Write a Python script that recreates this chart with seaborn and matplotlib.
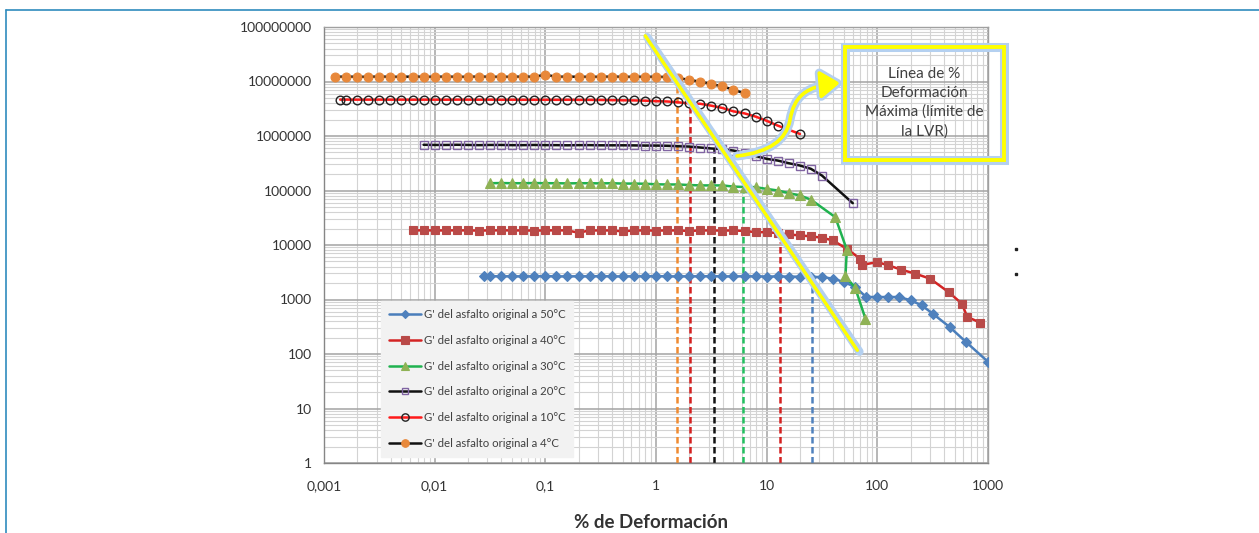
import numpy as np
import pandas as pd
import matplotlib
matplotlib.use("Agg")
import matplotlib.pyplot as plt
import seaborn as sns
from matplotlib.path import Path
from matplotlib.patches import FancyArrowPatch, Rectangle
from matplotlib.lines import Line2D
import matplotlib.patheffects as pe
from matplotlib.ticker import LogLocator, NullFormatter

# ---------------- data ----------------
STRAIN_50 = [0.028, 0.0316, 0.0398, 0.0501, 0.0631, 0.0794,
             0.1, 0.126, 0.158, 0.2, 0.251, 0.316, 0.398, 0.501, 0.631, 0.794,
             1.0, 1.26, 1.58, 2.0, 2.51, 3.16, 3.98, 5.01, 6.31, 7.94,
             10.0, 12.6, 15.8, 20.0, 25.1, 31.6,
             39.8, 50.1, 63.1, 79.4, 100, 126, 158, 200, 251, 316, 450, 631, 1000]
G_50 = [2650, 2680, 2660, 2670, 2650, 2660,
        2680, 2660, 2650, 2670, 2660, 2680, 2660, 2650, 2670, 2660,
        2680, 2660, 2650, 2670, 2660, 2680, 2660, 2650, 2670, 2660,
        2640, 2650, 2630, 2620, 2600, 2580,
        2410, 2090, 1690, 1110, 1110, 1110, 1110, 967, 783, 552, 313, 167, 72]

STRAIN_40 = [0.00631, 0.00794, 0.01, 0.0126, 0.0158, 0.02, 0.0251, 0.0316, 0.0398, 0.0501,
             0.0631, 0.0794, 0.1, 0.126, 0.158, 0.2, 0.251,
             0.316, 0.398, 0.501, 0.631, 0.794, 1.0, 1.26, 1.58, 2.0, 2.51, 3.16, 3.98, 5.01, 6.31, 7.94,
             10.0, 12.6, 15.8, 20.0, 25.1, 31.6, 39.8, 53.0, 70.0, 72.0,
             100, 126, 165, 220, 300, 440, 580, 650, 850]
G_40 = [18500, 18600, 18500, 18500, 18600, 18500, 18400, 18500, 18600, 18500,
        18500, 18400, 18500, 18600, 18500, 16800, 18500,
        18500, 18500, 17800, 18500, 18500, 18400, 18500, 18500, 18100, 18500, 18500, 18400, 18500, 18100, 17200,
        17200, 16500, 15600, 15000, 14400, 13600, 12100, 8500, 5600, 4300,
        4860, 4230, 3520, 2980, 2410, 1370, 841, 478, 377]

STRAIN_30 = [0.0316, 0.0398, 0.0501, 0.0631, 0.0794, 0.1, 0.126, 0.158, 0.2, 0.251, 0.316, 0.398, 0.501, 0.631,
             0.794, 1.0, 1.26, 1.58, 2.0, 2.51, 3.16, 3.98, 5.01, 6.31, 7.94, 10.0, 12.6, 15.8, 20.0, 25.1,
             41.7, 53.0, 51.5, 63.0, 78.0]
G_30 = [136000, 137000, 136000, 136000, 137000, 136000, 136000, 135000, 136000, 136000, 135000, 136000, 134000, 134000,
        133000, 130000, 129000, 129000, 126000, 124000, 124000, 124000, 118000, 116000, 115000, 107000, 100000, 89600, 81000, 68000,
        32400, 8200, 2660, 1650, 447]

STRAIN_20 = [0.00794, 0.01, 0.0126, 0.0158, 0.02, 0.0251, 0.0316, 0.0398, 0.0501, 0.0631,
             0.0794, 0.1, 0.126, 0.158, 0.2, 0.251, 0.316, 0.398, 0.501,
             0.631, 0.794, 1.0, 1.26, 1.58, 2.0, 2.51, 3.16, 3.98, 5.01, 6.31, 7.94,
             10.0, 12.6, 15.8, 20.0, 25.1, 31.6, 60.0]
G_20 = [690000, 685000, 685000, 690000, 685000, 680000, 685000, 685000, 680000, 680000,
        685000, 680000, 680000, 675000, 680000, 680000, 675000, 675000, 675000,
        672000, 667000, 667000, 660000, 648000, 640000, 615000, 590000, 575000, 540000, 490000, 430000,
        381000, 354000, 317000, 287000, 250000, 188000, 58500]

STRAIN_10 = [0.0014, 0.00158, 0.002, 0.00251, 0.00316, 0.00398, 0.00501, 0.00631, 0.00794,
             0.01, 0.0126, 0.0158, 0.02, 0.0251, 0.0316, 0.0398, 0.0501, 0.0631, 0.0794,
             0.1, 0.126, 0.158, 0.2, 0.251, 0.316, 0.398, 0.501, 0.631, 0.794,
             1.0, 1.26, 1.58, 2.0, 2.51, 3.16, 3.98, 5.01, 6.31, 7.94,
             10.0, 12.6, 20.0]
G_10 = [4.65e6, 4.65e6, 4.64e6, 4.64e6, 4.65e6, 4.64e6, 4.64e6, 4.63e6, 4.64e6,
        4.64e6, 4.63e6, 4.64e6, 4.64e6, 4.63e6, 4.64e6, 4.62e6, 4.63e6, 4.62e6, 4.62e6,
        4.62e6, 4.61e6, 4.62e6, 4.60e6, 4.60e6, 4.58e6, 4.55e6, 4.52e6, 4.50e6, 4.45e6,
        4.35e6, 4.30e6, 4.15e6, 3.97e6, 3.90e6, 3.60e6, 3.27e6, 2.83e6, 2.60e6, 2.27e6,
        1.90e6, 1.55e6, 1.09e6]

STRAIN_4 = [0.00126, 0.00158, 0.002, 0.00251, 0.00316, 0.00398, 0.00501, 0.00631, 0.00794,
            0.01, 0.0126, 0.0158, 0.02, 0.0251, 0.0316, 0.0398, 0.0501, 0.0631, 0.0794,
            0.1, 0.126, 0.158, 0.2, 0.251, 0.316, 0.398, 0.501, 0.631, 0.794,
            1.0, 1.26, 1.58, 2.0, 2.51, 3.16, 3.98, 5.01, 6.31]
G_4 = [12.2e6, 12.3e6, 12.2e6, 12.2e6, 12.3e6, 12.2e6, 12.2e6, 12.3e6, 12.2e6,
       12.2e6, 12.3e6, 12.2e6, 12.2e6, 12.3e6, 12.2e6, 12.2e6, 12.2e6, 12.3e6, 12.2e6,
       13.3e6, 12.2e6, 12.3e6, 12.2e6, 12.2e6, 12.2e6, 12.3e6, 12.2e6, 12.2e6, 12.2e6,
       12.2e6, 12.1e6, 11.6e6, 10.7e6, 9.9e6, 9.0e6, 8.1e6, 7.1e6, 6.05e6]

SERIES_LABELS = ["G' del asfalto original a 50°C", "G' del asfalto original a 40°C",
                 "G' del asfalto original a 30°C", "G' del asfalto original a 20°C",
                 "G' del asfalto original a 10°C", "G' del asfalto original a 4°C"]

# LVR limit lines (dashed verticals)
LVR_X = [1.54, 2.03, 3.35, 6.14, 13.3, 25.7]
LVR_TOP = [8.4e6, 3.36e6, 6.1e5, 9.3e4, 1.13e4, 1.69e3]

# yellow limit line end points
YELLOW_X = [0.80, 66.0]
YELLOW_Y = [6.9e7, 117.0]

XTICKS = [0.001, 0.01, 0.1, 1, 10, 100, 1000]
XTICK_LABELS = ["0,001", "0,01", "0,1", "1", "10", "100", "1000"]
YTICKS = [1, 10, 100, 1e3, 1e4, 1e5, 1e6, 1e7, 1e8]
YTICK_LABELS = ["1", "10", "100", "1000", "10000", "100000", "1000000", "10000000", "100000000"]

# ---------------- build table ----------------
frames = []
for lab, xs, ys in zip(SERIES_LABELS,
                       [STRAIN_50, STRAIN_40, STRAIN_30, STRAIN_20, STRAIN_10, STRAIN_4],
                       [G_50, G_40, G_30, G_20, G_10, G_4]):
    frames.append(pd.DataFrame({"serie": lab, "strain": xs, "G": ys}))
df = pd.concat(frames, ignore_index=True)

# ---------------- styling ----------------
sns.set_theme(style="white")
plt.rcParams["font.family"] = ["Lato", "DejaVu Sans"]

STYLES = [
    dict(color="#4a7ebb", marker="D", markersize=5.2, markerfacecolor="#4f81bd", markeredgecolor="#4f81bd", markeredgewidth=0.8),
    dict(color="#d42424", marker="s", markersize=6.2, markerfacecolor="#b94a48", markeredgecolor="#b94a48", markeredgewidth=0.8),
    dict(color="#1fb24f", marker="^", markersize=6.8, markerfacecolor="#8fb255", markeredgecolor="#8fb255", markeredgewidth=0.8),
    dict(color="#111111", marker="s", markersize=5.6, markerfacecolor="none", markeredgecolor="#8064a2", markeredgewidth=1.0),
    dict(color="#ff1a1a", marker="o", markersize=6.2, markerfacecolor="none", markeredgecolor="#222222", markeredgewidth=1.0),
    dict(color="#111111", marker="o", markersize=6.4, markerfacecolor="#e8883a", markeredgecolor="#e8883a", markeredgewidth=0.8),
]
LVR_COLORS = ["#f08a30", "#d42020", "#111111", "#22c060", "#d42020", "#4f81bd"]

W, H = 1259, 533
fig = plt.figure(figsize=(W / 100, H / 100), dpi=100)
fig.patch.set_facecolor("white")
ax = fig.add_axes([324 / W, 1 - 463 / H, (988 - 324) / W, (463 - 27) / H])
ax.set_facecolor("white")
ax.set_xscale("log")
ax.set_yscale("log")

for lab, st in zip(SERIES_LABELS, STYLES):
    sub = df[df["serie"] == lab]
    sns.lineplot(data=sub, x="strain", y="G", ax=ax, sort=False, estimator=None,
                 linewidth=1.8, label=lab, zorder=3, **st)

ax.vlines(LVR_X, 1, LVR_TOP, colors=LVR_COLORS, linestyles=(0, (2.6, 1.4)), linewidth=1.8, zorder=2.5)

ax.plot(YELLOW_X, YELLOW_Y, color="#ffff00", lw=2.4, solid_capstyle="round", zorder=6,
        path_effects=[pe.Stroke(offset=(1.5, -1.0), linewidth=6, foreground="#b4d0f0"), pe.Normal()])

ax.set_xlim(1e-3, 1e3)
ax.set_ylim(1, 1e8)
ax.set_xticks(XTICKS, XTICK_LABELS)
ax.set_yticks(YTICKS, YTICK_LABELS)
ax.xaxis.set_minor_locator(LogLocator(base=10, subs=np.arange(2, 10), numticks=100))
ax.yaxis.set_minor_locator(LogLocator(base=10, subs=np.arange(2, 10), numticks=100))
ax.xaxis.set_minor_formatter(NullFormatter())
ax.yaxis.set_minor_formatter(NullFormatter())
ax.tick_params(which="minor", length=0)
ax.tick_params(which="major", length=3.6, width=1, color="#868686", labelsize=10, labelcolor="#333333")
ax.tick_params(axis="x", pad=8.6)
ax.tick_params(axis="y", pad=5.3)
ax.grid(True, which="major", color="#a3a3a3", lw=1.1)
ax.grid(True, which="minor", color="#d3d3d3", lw=0.8)
ax.set_axisbelow(True)
for s in ax.spines.values():
    s.set_color("#a0a0a0")
    s.set_linewidth(1)
ax.spines["left"].set_color("#868686")
ax.spines["bottom"].set_color("#868686")
ax.set_xlabel("")
ax.set_ylabel("")

handles, labels = ax.get_legend_handles_labels()
leg = ax.legend(handles, labels, loc="lower left", bbox_to_anchor=(0.086, 0.014), borderaxespad=0,
                fontsize=8.2, labelspacing=1.3, handlelength=2.8, handletextpad=0.25, borderpad=0.7,
                markerscale=0.85, frameon=True, fancybox=False, facecolor="#f2f2f2",
                edgecolor="#f2f2f2", framealpha=1)
for t in leg.get_texts():
    t.set_color("#404040")
leg.set_zorder(7)

# x axis title
fig.text(651 / W, 1 - 523 / H, "% de Deformación", ha="center", va="center",
         fontsize=13.5, fontweight="bold", color="#333333")

# annotation box and curved arrow
def F(px, py):
    return (px / W, 1 - py / H)

glow = [pe.Stroke(linewidth=6.5, foreground="#b4d0f0"), pe.Normal()]
verts = [F(737, 156), F(770, 152), F(786, 140), F(790, 120), F(794, 97), F(805, 86), F(840, 83)]
codes = [Path.MOVETO, Path.CURVE4, Path.CURVE4, Path.CURVE4, Path.CURVE4, Path.CURVE4, Path.CURVE4]
arrow = FancyArrowPatch(path=Path(verts, codes), arrowstyle="-|>,head_length=0.6,head_width=0.42",
                        mutation_scale=20, color="#ffff00", lw=2.6, transform=fig.transFigure,
                        path_effects=glow, zorder=8)
fig.add_artist(arrow)

box = Rectangle(F(845, 160), 159 / W, 113 / H, transform=fig.transFigure, fill=False,
                edgecolor="#ffff00", lw=2.8, path_effects=glow, zorder=8)
fig.add_artist(box)
fig.text(924.5 / W, 1 - 102.5 / H, "Línea de %\nDeformación\nMáxima (límite de\nla LVR)",
         ha="center", va="center", fontsize=11, linespacing=1.45, color="#404040", zorder=9)

# page frame lines and small marks
fig.add_artist(Line2D([6 / W, 1], [1 - 10 / H, 1 - 10 / H], color="#2f8bbd", lw=1.2, transform=fig.transFigure))
fig.add_artist(Line2D([6 / W, 6 / W], [0, 1 - 10 / H], color="#2f8bbd", lw=1.2, transform=fig.transFigure))
fig.add_artist(Line2D([1016 / W, 1016 / W], [1 - 249 / H, 1 - 274 / H], ls="none", marker="s", ms=1.8,
                      color="#222222", transform=fig.transFigure))

fig.savefig("out.png", dpi=100)
